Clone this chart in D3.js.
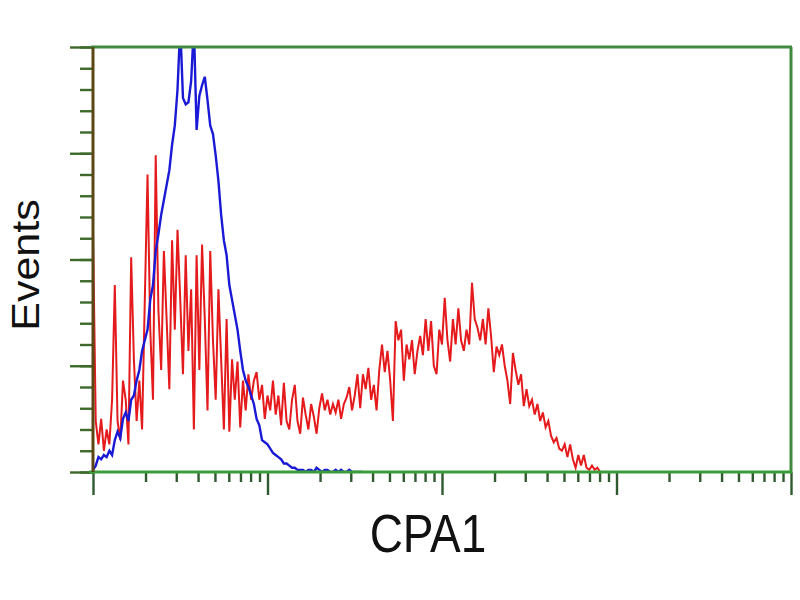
<!DOCTYPE html>
<html><head><meta charset="utf-8">
<script src="https://cdn.jsdelivr.net/npm/d3@7"></script>
<style>body{margin:0;background:#fff}</style>
</head><body><svg id="c" width="800" height="600"></svg>
<script>
// Red histogram (CPA1 stained), counts per channel (256-channel log display)
const redCounts = [
 113,24,13,25,10,20,13,34,88,24,
 15,43,34,13,101,53,24,43,20,81,
 140,67,34,149,76,48,104,72,39,109,
 67,114,81,46,102,57,86,20,102,48,
 107,72,29,104,62,34,86,53,20,72,
 19,53,34,52,21,43,29,46,34,43,
 47,34,41,25,36,29,43,27,36,22,
 42,24,20,34,41,24,18,35,27,20,
 32,26,18,30,37,29,34,27,32,28,
 34,25,32,35,40,29,36,46,30,46,
 39,49,34,41,29,48,60,47,57,43,
 24,71,62,67,43,60,53,62,46,57,
 64,55,72,57,71,50,46,67,60,82,
 62,52,72,60,77,62,57,67,60,89,
 72,68,62,72,60,77,64,47,59,55,
 60,50,43,32,56,48,41,46,31,39,
 31,34,27,32,24,28,21,24,17,14,
 16,11,10,13,7,13,6,2,8,3,
 8,2,1,3,1,2,0,0,0
];
// Blue histogram (isotype control)
const blueCounts = [
 1,3,7,6,8,7,10,8,15,19,
 16,25,28,24,34,36,43,48,57,62,
 67,81,88,104,112,121,128,135,142,154,
 163,180,210,176,173,174,184,210,161,177,
 182,186,175,163,159,149,137,121,109,102,
 88,81,74,67,57,48,43,40,36,32,
 25,22,15,14,13,11,9,8,7,6,
 4,4,3,2,2,1,1,1,0,1,
 1,0,2,1,0,1,1,0,0,1,
 0,1,0,0,1,0,0,0,0,0
];
const xMajorTicks = [1, 10, 100, 1000, 10000];
const xMinorTicks = [1,10,100,1000].flatMap(d => [2,3,4,5,6,7,8,9].map(m => m*d));
const yMajorTicks = [0, 50, 100, 150, 200];
const yMinorTicks = d3.range(0, 201, 10);
const xLabel = "CPA1";
const yLabel = "Events";
const nChannels = 256;

const svg = d3.select('#c');
const L = 93, R = 791, T = 47, B = 472;
const x = d3.scaleLinear().domain([0, nChannels]).range([L, R]);
const xLog = d3.scaleLog().domain([1, 10000]).range([L, R]);
const y = d3.scaleLinear().domain([0, 200]).range([B, T]);

svg.append('defs').append('clipPath').attr('id','clip')
  .append('rect').attr('x', L).attr('y', T).attr('width', R-L).attr('height', B-T);

// ticks
function styleAxis(g, color){
  g.select('.domain').remove();
  g.selectAll('.tick line').attr('stroke', color).attr('stroke-width', 2.4);
  g.selectAll('.tick text').remove();
}
svg.append('g').attr('transform', `translate(0,${B})`)
  .call(d3.axisBottom(xLog).tickValues(xMinorTicks).tickSize(10).tickFormat(''))
  .call(g => styleAxis(g, '#2f5a2f'));
svg.append('g').attr('transform', `translate(0,${B})`)
  .call(d3.axisBottom(xLog).tickValues(xMajorTicks).tickSize(23).tickFormat(''))
  .call(g => styleAxis(g, '#2f5a2f'));
svg.append('g').attr('transform', `translate(${L},0)`)
  .call(d3.axisLeft(y).tickValues(yMinorTicks).tickSize(13).tickFormat(''))
  .call(g => styleAxis(g, '#3d6a2a'));
svg.append('g').attr('transform', `translate(${L},0)`)
  .call(d3.axisLeft(y).tickValues(yMajorTicks).tickSize(23).tickFormat(''))
  .call(g => styleAxis(g, '#3d6a2a'));

const line = d3.line().x((d,i) => x(i)).y(d => y(d));
const plot = svg.append('g').attr('clip-path','url(#clip)');
plot.append('path').datum(redCounts).attr('d', line)
  .attr('fill','none').attr('stroke','#e41a1c').attr('stroke-width',2).attr('stroke-linejoin','miter');
plot.append('path').datum(blueCounts).attr('d', line)
  .attr('fill','none').attr('stroke','#1a1ad6').attr('stroke-width',2.4).attr('stroke-linejoin','miter');

// frame
svg.append('line').attr('x1', L-2).attr('x2', R+1).attr('y1', T).attr('y2', T).attr('stroke','#3f8a3f').attr('stroke-width',3);
svg.append('line').attr('x1', R).attr('x2', R).attr('y1', T).attr('y2', B).attr('stroke','#3f8a3f').attr('stroke-width',3);
svg.append('line').attr('x1', L-4).attr('x2', R+1).attr('y1', B).attr('y2', B).attr('stroke','#3a9d3a').attr('stroke-width',3);
svg.append('line').attr('x1', L).attr('x2', L).attr('y1', T).attr('y2', B).attr('stroke','#5b4616').attr('stroke-width',3);

// labels
svg.append('text').text(xLabel)
  .attr('font-family','Liberation Sans, Arial, sans-serif').attr('font-size',46)
  .attr('text-anchor','middle').attr('fill','#111')
  .attr('transform','translate(428,552) scale(1,1.18)');
svg.append('text').text(yLabel)
  .attr('font-family','Liberation Sans, Arial, sans-serif').attr('font-size',43)
  .attr('text-anchor','middle').attr('fill','#111')
  .attr('transform','translate(39,265) rotate(-90) scale(1,0.92)');
</script>
</body></html>
